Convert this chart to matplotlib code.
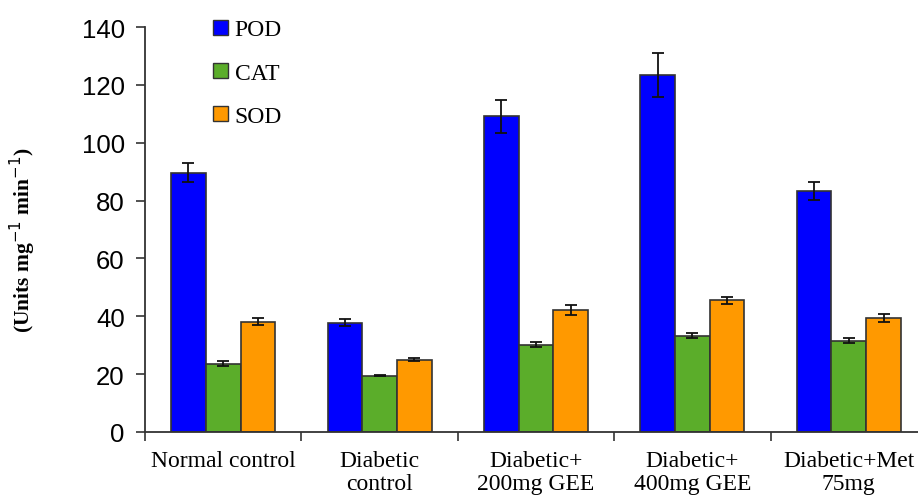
import matplotlib
matplotlib.use("Agg")
import matplotlib.pyplot as plt
import numpy as np
from matplotlib.patches import Patch

categories = ["Normal control", "Diabetic\ncontrol", "Diabetic+\n200mg GEE",
              "Diabetic+\n400mg GEE", "Diabetic+Met\n75mg"]
series_names = ["POD", "CAT", "SOD"]
pod = [89.6, 37.7, 109.2, 123.5, 83.4]
pod_err = [3.3, 1.2, 5.7, 7.6, 3.1]
cat = [23.6, 19.5, 30.2, 33.3, 31.6]
cat_err = [0.9, 0.2, 0.9, 0.9, 0.8]
sod = [38.1, 25.0, 42.1, 45.5, 39.4]
sod_err = [1.2, 0.6, 1.7, 1.3, 1.3]
yticks = [0, 20, 40, 60, 80, 100, 120, 140]

colors = ["#0000FF", "#5BAD2A", "#FF9900"]
values = [pod, cat, sod]
errors = [pod_err, cat_err, sod_err]

W, H = 918, 502
fig = plt.figure(figsize=(W / 100, H / 100), dpi=100)
left, right, bottom, top = 145, 927, 433, 28
ax = fig.add_axes([left / W, 1 - bottom / H, (right - left) / W, (bottom - top) / H])

x = np.arange(len(categories))
bw = 0.222
for i, (vals, errs, c) in enumerate(zip(values, errors, colors)):
    ax.bar(x + (i - 1) * bw, vals, bw, color=c, edgecolor="#333333", linewidth=1.2,
           yerr=errs, error_kw=dict(ecolor="#111111", elinewidth=1.3, capsize=4.5, capthick=1.3),
           zorder=2)

ax.set_xlim(-0.5, len(categories) - 0.5)
ax.set_ylim(0, 140)
ax.set_yticks(yticks)
ax.set_yticklabels([str(v) for v in yticks], fontfamily="Liberation Sans", fontsize=18.5)
ax.tick_params(axis="y", direction="out", length=6.5, width=1.2, pad=8, color="#333333")

ax.set_xticks(x)
ax.set_xticklabels(categories, fontfamily="Liberation Serif", fontsize=17, linespacing=1.15)
ax.tick_params(axis="x", which="major", length=0, pad=13)
ax.set_xticks(np.arange(len(categories) + 1) - 0.5, minor=True)
ax.tick_params(axis="x", which="minor", direction="out", length=6.5, width=1.2, color="#333333")

for s in ["top", "right"]:
    ax.spines[s].set_visible(False)
for s in ["left", "bottom"]:
    ax.spines[s].set_linewidth(1.3)
    ax.spines[s].set_color("#333333")

ax.set_ylabel("(Units mg$^{-1}$ min$^{-1}$)", fontfamily="Liberation Serif",
              fontweight="bold", fontsize=15.5, labelpad=0)
ax.yaxis.set_label_coords(38 / W, 1 - 240 / H, transform=fig.transFigure)

handles = [Patch(facecolor=c, edgecolor="#333333", linewidth=1.0) for c in colors]
leg = ax.legend(handles, series_names, loc="upper left", frameon=False,
                bbox_to_anchor=(204 / W, 1 - 11 / H), bbox_transform=fig.transFigure,
                prop=dict(family="Liberation Serif", size=17),
                handlelength=0.6, handleheight=0.6, handletextpad=0.3,
                labelspacing=0.95, borderaxespad=0)

fig.savefig("out.png", dpi=100)
